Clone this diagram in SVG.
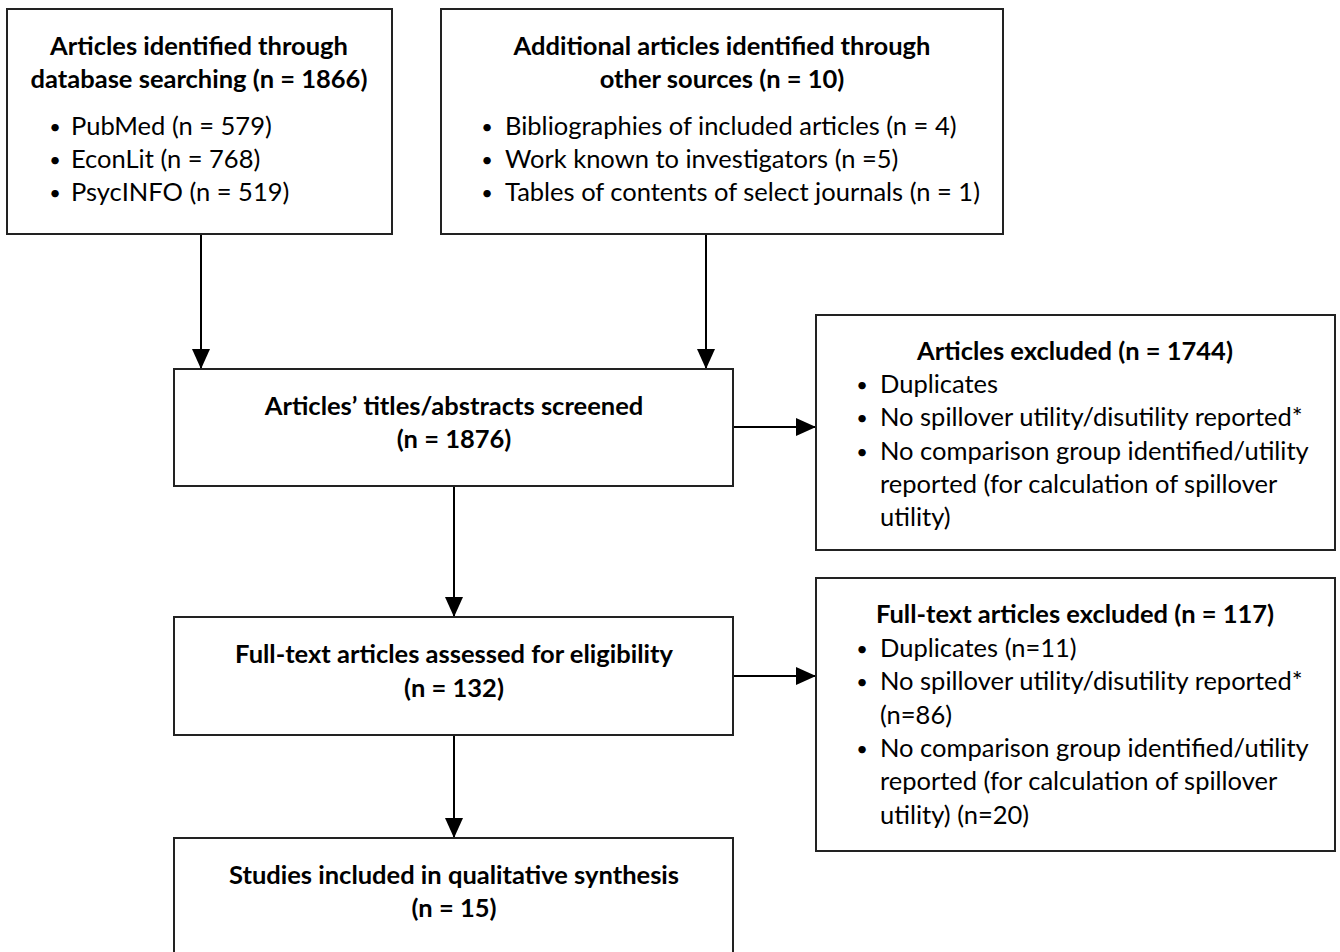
<svg xmlns="http://www.w3.org/2000/svg" width="1340" height="952" viewBox="0 0 1340 952">
<style>
.box{fill:#fff;stroke:#222;stroke-width:2}
text{font-family:Lato,"Open Sans",sans-serif;font-size:25.5px;fill:#000}
.h{font-weight:bold;text-anchor:middle}
.b{text-anchor:middle;font-size:20px}
.c{stroke:#000;stroke-width:2;fill:none}
</style>
<defs>
<marker id="a" viewBox="0 0 20 18" refX="20" refY="9" markerWidth="20" markerHeight="18" orient="auto" markerUnits="userSpaceOnUse">
<path d="M0,0 L20,9 L0,18 z" fill="#000"/>
</marker>
</defs>
<rect width="1340" height="952" fill="#fff"/>
<g id="connectors">
<line class="c" x1="201" y1="234" x2="201" y2="369" marker-end="url(#a)"/>
<line class="c" x1="706" y1="234" x2="706" y2="369" marker-end="url(#a)"/>
<line class="c" x1="454" y1="486" x2="454" y2="617" marker-end="url(#a)"/>
<line class="c" x1="454" y1="735" x2="454" y2="838" marker-end="url(#a)"/>
<line class="c" x1="733" y1="427" x2="816" y2="427" marker-end="url(#a)"/>
<line class="c" x1="733" y1="676" x2="816" y2="676" marker-end="url(#a)"/>
</g>
<g id="db">
<rect class="box" x="7" y="9" width="385" height="225"/>
<text class="h" x="199" y="55">Articles identified through</text>
<text class="h" x="199" y="88">database searching (n = 1866)</text>
<text class="b" x="55" y="134">•</text><text x="71" y="135">PubMed (n = 579)</text>
<text class="b" x="55" y="167">•</text><text x="71" y="168">EconLit (n = 768)</text>
<text class="b" x="55" y="200">•</text><text x="71" y="201">PsycINFO (n = 519)</text>
</g>
<g id="other">
<rect class="box" x="441" y="9" width="562" height="225"/>
<text class="h" x="722" y="55">Additional articles identified through</text>
<text class="h" x="722" y="88">other sources (n = 10)</text>
<text class="b" x="487" y="134">•</text><text x="505" y="135">Bibliographies of included articles (n = 4)</text>
<text class="b" x="487" y="167">•</text><text x="505" y="168">Work known to investigators (n =5)</text>
<text class="b" x="487" y="200">•</text><text x="505" y="201">Tables of contents of select journals (n = 1)</text>
</g>
<g id="screened">
<rect class="box" x="174" y="369" width="559" height="117"/>
<text class="h" x="454" y="415">Articles’ titles/abstracts screened</text>
<text class="h" x="454" y="448">(n = 1876)</text>
</g>
<g id="excluded1">
<rect class="box" x="816" y="315" width="519" height="235"/>
<text class="h" x="1075" y="360">Articles excluded (n = 1744)</text>
<text class="b" x="862" y="392">•</text><text x="880" y="393">Duplicates</text>
<text class="b" x="862" y="425">•</text><text x="880" y="426">No spillover utility/disutility reported*</text>
<text class="b" x="862" y="459">•</text><text x="880" y="460">No comparison group identified/utility</text>
<text x="880" y="493">reported (for calculation of spillover</text>
<text x="880" y="526">utility)</text>
</g>
<g id="fulltext">
<rect class="box" x="174" y="617" width="559" height="118"/>
<text class="h" x="454" y="663">Full-text articles assessed for eligibility</text>
<text class="h" x="454" y="697">(n = 132)</text>
</g>
<g id="excluded2">
<rect class="box" x="816" y="578" width="519" height="273"/>
<text class="h" x="1075" y="623">Full-text articles excluded (n = 117)</text>
<text class="b" x="862" y="656">•</text><text x="880" y="657">Duplicates (n=11)</text>
<text class="b" x="862" y="689">•</text><text x="880" y="690">No spillover utility/disutility reported*</text>
<text x="880" y="724">(n=86)</text>
<text class="b" x="862" y="756">•</text><text x="880" y="757">No comparison group identified/utility</text>
<text x="880" y="790">reported (for calculation of spillover</text>
<text x="880" y="824">utility) (n=20)</text>
</g>
<g id="included">
<rect class="box" x="174" y="838" width="559" height="130"/>
<text class="h" x="454" y="884">Studies included in qualitative synthesis</text>
<text class="h" x="454" y="917">(n = 15)</text>
</g>
</svg>
